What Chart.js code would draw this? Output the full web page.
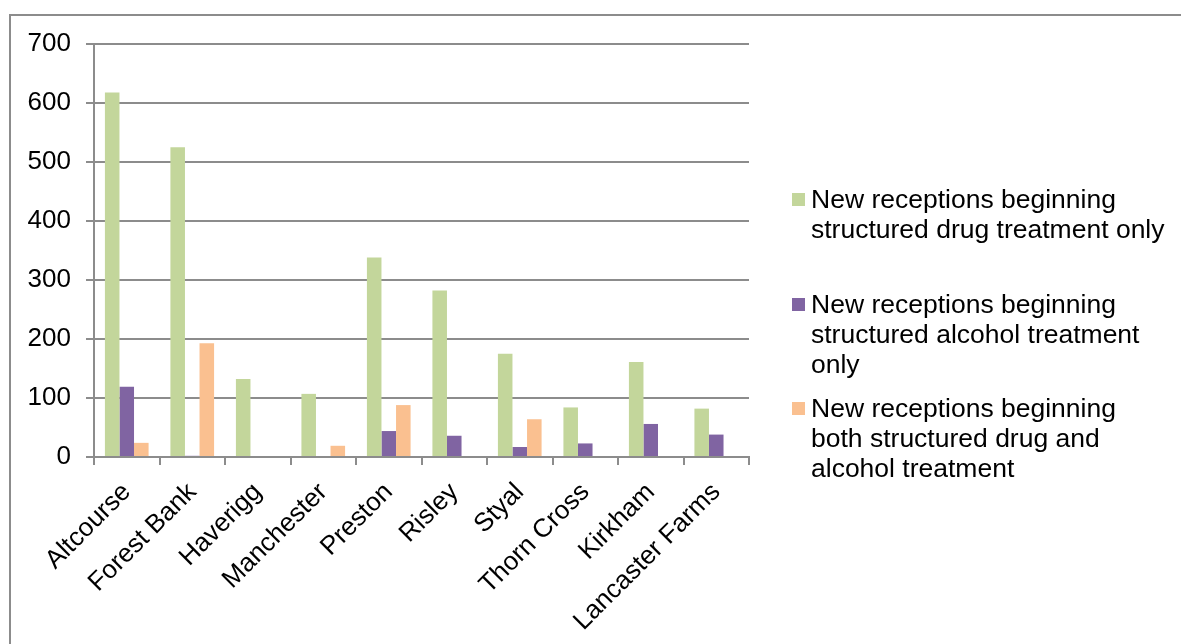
<!DOCTYPE html>
<html>
<head>
<meta charset="utf-8">
<script src="https://cdn.jsdelivr.net/npm/chart.js@4/dist/chart.umd.min.js"></script>
<style>
  html, body { margin: 0; padding: 0; background: #fff; }
  #wrap { position: relative; width: 1181px; height: 644px; }
</style>
</head>
<body>
<div id="wrap"><canvas id="c" width="1181" height="644"></canvas></div>
<script>
const categories = ["Altcourse", "Forest Bank", "Haverigg", "Manchester", "Preston", "Risley", "Styal", "Thorn Cross", "Kirkham", "Lancaster Farms"];
const drugOnly = [618, 525, 132, 107, 338, 282, 175, 84, 161, 82];
const alcoholOnly = [119, 2, 0, 0, 44, 36, 17, 23, 56, 38];
const drugAndAlcohol = [24, 193, 0, 19, 88, 0, 64, 0, 0, 0];
const seriesNames = [
  "New receptions beginning structured drug treatment only",
  "New receptions beginning structured alcohol treatment only",
  "New receptions beginning both structured drug and alcohol treatment"
];
const yTicks = [0, 100, 200, 300, 400, 500, 600, 700];

const colors = ["#c3d69b", "#8064a2", "#fac090"];
const FONT = "'Liberation Sans', Arial, sans-serif";
const GRID = "#8c8c8c";

const frameAndLegend = {
  id: 'frameAndLegend',
  afterDraw(chart) {
    const ctx = chart.ctx;
    ctx.save();
    // outer frame (cut off at right and bottom)
    ctx.strokeStyle = GRID;
    ctx.lineWidth = 2;
    ctx.beginPath();
    ctx.moveTo(10, 644);
    ctx.lineTo(10, 15);
    ctx.lineTo(1181, 15);
    ctx.stroke();
    // legend
    const tops = [193, 298, 402];
    ctx.font = "26.5px " + FONT;
    ctx.textBaseline = 'alphabetic';
    ctx.textAlign = 'left';
    const maxW = 359;
    chart.data.datasets.forEach((ds, i) => {
      const top = tops[i];
      ctx.fillStyle = ds.backgroundColor;
      ctx.fillRect(792, top, 13, 13);
      const words = ds.label.split(' ');
      const lines = [];
      let cur = '';
      words.forEach(w => {
        const t = cur ? cur + ' ' + w : w;
        if (ctx.measureText(t).width > maxW && cur) { lines.push(cur); cur = w; }
        else cur = t;
      });
      if (cur) lines.push(cur);
      ctx.fillStyle = '#000';
      lines.forEach((ln, j) => ctx.fillText(ln, 811, top + 15 + j * 30));
    });
    ctx.restore();
  }
};

new Chart(document.getElementById('c'), {
  type: 'bar',
  data: {
    labels: categories,
    datasets: [
      { label: seriesNames[0], data: drugOnly, backgroundColor: colors[0] },
      { label: seriesNames[1], data: alcoholOnly, backgroundColor: colors[1] },
      { label: seriesNames[2], data: drugAndAlcohol, backgroundColor: colors[2] }
    ]
  },
  options: {
    responsive: false,
    animation: false,
    devicePixelRatio: 1,
    layout: { padding: { left: 0, right: 432, top: 44, bottom: 0 } },
    datasets: { bar: { categoryPercentage: 3 / 4.5, barPercentage: 1, borderWidth: 0 } },
    plugins: { legend: { display: false }, tooltip: { enabled: false } },
    scales: {
      x: {
        grid: { display: true, drawOnChartArea: false, drawTicks: true, tickLength: 8, color: GRID, lineWidth: 2, offset: true },
        border: { display: true, color: GRID, width: 2 },
        ticks: { color: '#000', font: { family: FONT, size: 26 }, minRotation: 45, maxRotation: 45, padding: 12, autoSkip: false },
        afterFit(scale) { scale.height = 644 - 457; }
      },
      y: {
        min: 0, max: 700,
        afterBuildTicks(scale) { scale.ticks = yTicks.map(v => ({ value: v })); },
        grid: { color: GRID, lineWidth: 2, drawTicks: true, tickLength: 8 },
        border: { display: true, color: GRID, width: 2 },
        ticks: { color: '#000', font: { family: FONT, size: 26 }, padding: 15 },
        afterFit(scale) { scale.width = 94; }
      }
    }
  },
  plugins: [frameAndLegend]
});
</script>
</body>
</html>
